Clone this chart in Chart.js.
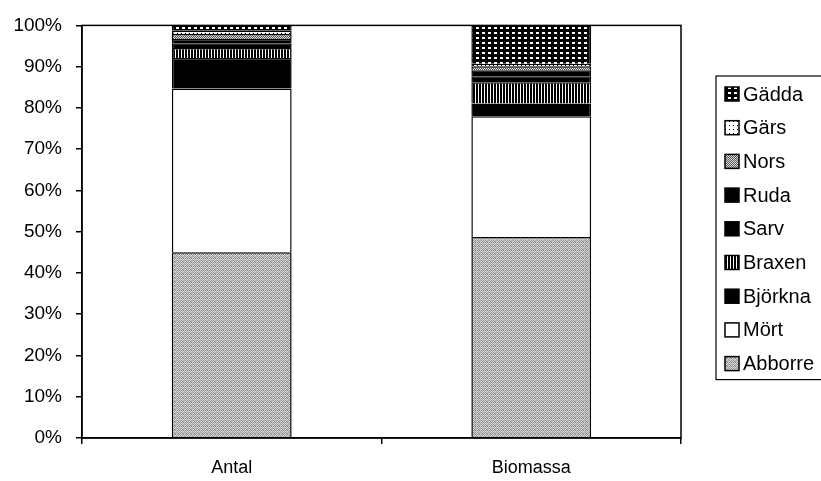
<!DOCTYPE html>
<html>
<head>
<meta charset="utf-8">
<script src="https://cdn.jsdelivr.net/npm/chart.js@4"></script>
<style>
  body { margin: 0; background: #fff; }
  #wrap { width: 821px; height: 481px; }
</style>
</head>
<body>
<div id="wrap"><canvas id="myChart" width="821" height="481"></canvas></div>
<script>
// percent of total, per category
let categories = ["Antal", "Biomassa"];
let abborre = [45.0, 48.7];
let mort = [39.7, 29.3];
let bjorkna = [7.4, 3.1];
let braxen = [2.4, 5.1];
let sarv = [1.2, 1.5];
let ruda = [1.0, 1.4];
let nors = [1.2, 1.0];
let gars = [0.8, 0.6];
let gadda = [1.3, 9.3];
let yTicks = [0, 10, 20, 30, 40, 50, 60, 70, 80, 90, 100];

const FONT = "Liberation Sans, Arial, sans-serif";

// small fill patterns, the original is a b/w print
function makePattern(w, h, draw) {
	let c = document.createElement("canvas");
	c.width = w;
	c.height = h;
	let g = c.getContext("2d");
	draw(g);
	return g.createPattern(c, "repeat");
}
let pSpeckle = makePattern(4, 4, (g) => {
	let shades = ["#c4c4c4", "#8c8c8c", "#d8d8d8", "#a0a0a0",
		"#a8a8a8", "#e0e0e0", "#808080", "#c8c8c8",
		"#dadada", "#989898", "#bcbcbc", "#7c7c7c",
		"#9c9c9c", "#d0d0d0", "#b0b0b0", "#e4e4e4"];
	for (let i = 0; i < 16; i++) {
		g.fillStyle = shades[i];
		g.fillRect(i % 4, Math.floor(i / 4), 1, 1);
	}
});
let pStripes = makePattern(3, 3, (g) => {
	g.fillStyle = "#000";
	g.fillRect(0, 0, 3, 3);
	g.fillStyle = "#fff";
	g.fillRect(1, 0, 1, 3);
});
let pCheck = makePattern(2, 2, (g) => {
	g.fillStyle = "#555";
	g.fillRect(0, 0, 2, 2);
	g.fillStyle = "#ddd";
	g.fillRect(0, 0, 1, 1);
	g.fillRect(1, 1, 1, 1);
});
let pDotsWhite = makePattern(4, 4, (g) => {
	g.fillStyle = "#fff";
	g.fillRect(0, 0, 4, 4);
	g.fillStyle = "#000";
	g.fillRect(1, 1, 1, 1);
});
let pDotsBlack = makePattern(6, 5, (g) => {
	g.fillStyle = "#000";
	g.fillRect(0, 0, 6, 5);
	g.fillStyle = "#fff";
	g.fillRect(2, 2, 3, 2);
});

function ds(label, data, fill) {
	return {
		label: label,
		data: data,
		backgroundColor: fill,
		borderColor: "#000",
		borderWidth: 1.5,
		categoryPercentage: 1,
		barPercentage: 0.4,
	};
}

// box round the plot area + legend box on the right
const framePlugin = {
	id: "frame",
	afterDraw(chart) {
		let c = chart.ctx;
		let a = chart.chartArea;
		c.save();
		c.strokeStyle = "#000";
		c.lineWidth = 1.5;
		c.strokeRect(a.left, a.top, a.right - a.left, a.bottom - a.top);

		let sets = chart.data.datasets.slice().reverse();
		let lx = 716, ly = 76, step = 33.7;
		c.lineWidth = 1.2;
		c.strokeRect(lx, ly, 140, 18 + step * (sets.length - 1) + 16);
		c.font = "20px " + FONT;
		c.textBaseline = "middle";
		sets.forEach((s, i) => {
			let y = ly + 18 + i * step;
			c.fillStyle = s.backgroundColor;
			c.fillRect(725, y - 7, 14, 14);
			c.strokeStyle = "#000";
			c.lineWidth = 1.5;
			c.strokeRect(725, y - 7, 14, 14);
			c.fillStyle = "#000";
			c.fillText(s.label, 743, y + 1);
		});
		c.restore();
	},
};

var ctx = document.getElementById("myChart");
var myChart = new Chart(ctx, {
	type: "bar",
	data: {
		labels: categories,
		datasets: [
			ds("Abborre", abborre, pSpeckle),
			ds("Mört", mort, "#fff"),
			ds("Björkna", bjorkna, "#000"),
			ds("Braxen", braxen, pStripes),
			ds("Sarv", sarv, "#000"),
			ds("Ruda", ruda, "#000"),
			ds("Nors", nors, pCheck),
			ds("Gärs", gars, pDotsWhite),
			ds("Gädda", gadda, pDotsBlack),
		],
	},
	options: {
		responsive: false,
		animation: false,
		layout: { padding: { top: 19, right: 140, left: 0, bottom: 0 } },
		plugins: {
			legend: { display: false },
			tooltip: { enabled: false },
		},
		scales: {
			x: {
				stacked: true,
				border: { display: true, color: "#000", width: 1.5 },
				grid: {
					display: true,
					offset: true,
					drawOnChartArea: false,
					drawTicks: true,
					tickLength: 6,
					color: "#000",
					lineWidth: 1.5,
				},
				ticks: { color: "#000", font: { family: FONT, size: 18 }, padding: 13 },
				afterFit(scale) {
					scale.height = 43;
				},
			},
			y: {
				stacked: true,
				min: 0,
				max: 100,
				border: { display: true, color: "#000", width: 1.5 },
				grid: {
					drawOnChartArea: false,
					tickLength: 6,
					color: "#000",
					lineWidth: 1.5,
				},
				afterBuildTicks(scale) {
					scale.ticks = yTicks.map((v) => ({ value: v }));
				},
				ticks: {
					color: "#000",
					font: { family: FONT, size: 19 },
					padding: 14,
					callback: (v) => v + "%",
				},
				afterFit(scale) {
					scale.width = 82;
				},
			},
		},
	},
	plugins: [framePlugin],
});
</script>
</body>
</html>
